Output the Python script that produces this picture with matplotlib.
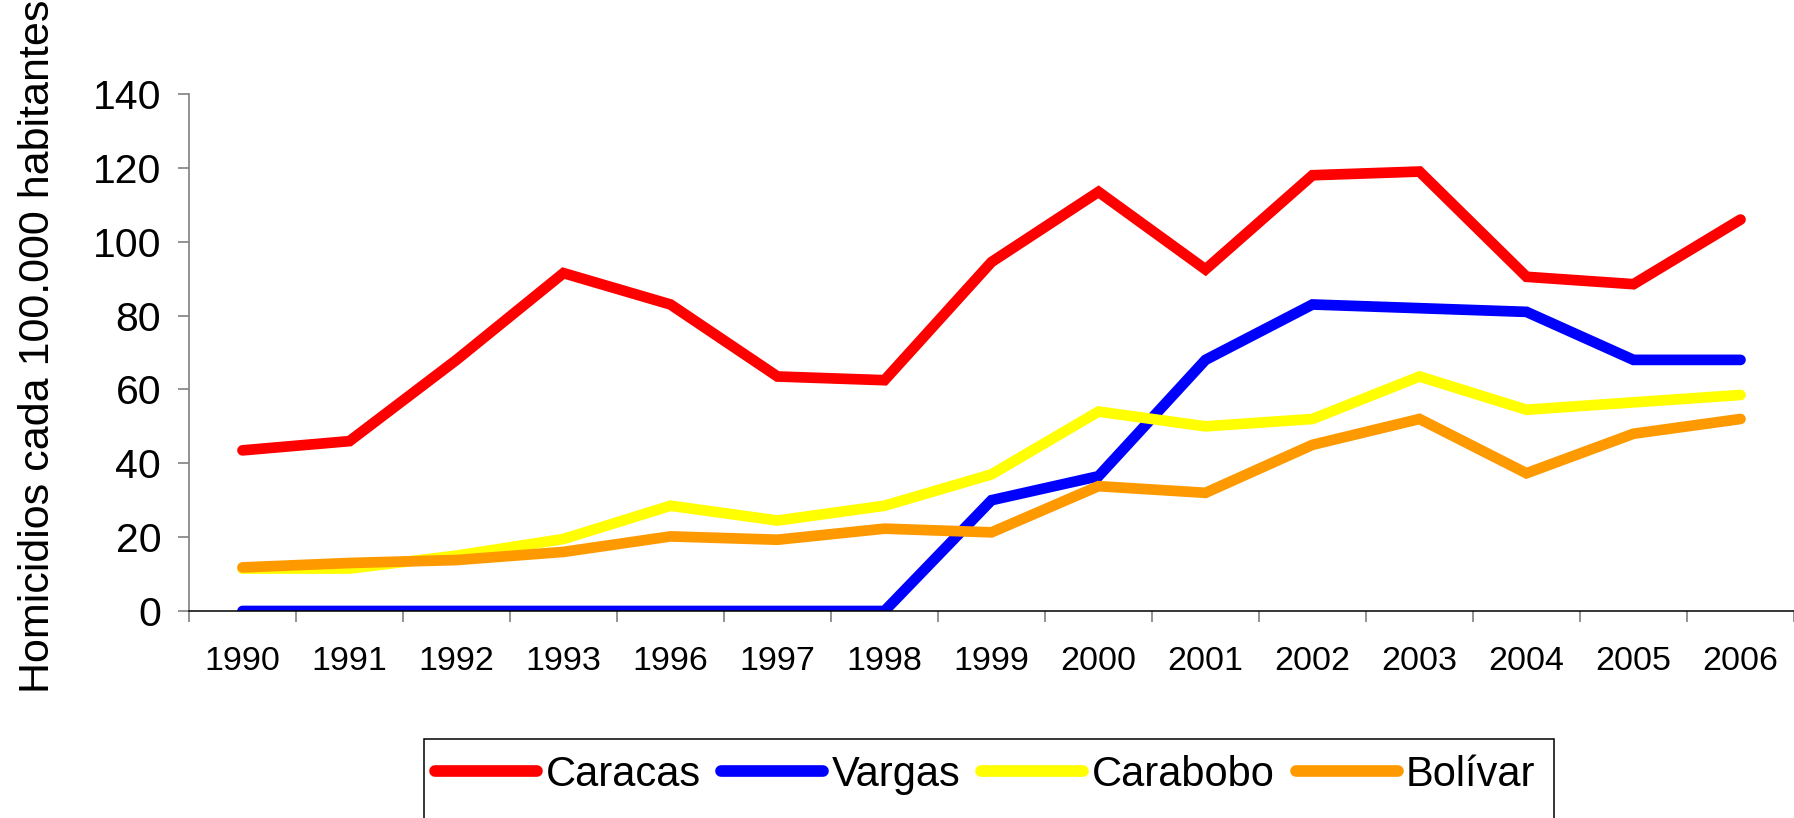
import matplotlib
matplotlib.use("Agg")
import matplotlib.pyplot as plt
from matplotlib.patches import Rectangle

plt.rcParams['font.family'] = ['Liberation Sans', 'DejaVu Sans']

years = ['1990', '1991', '1992', '1993', '1996', '1997', '1998', '1999',
         '2000', '2001', '2002', '2003', '2004', '2005', '2006']
caracas = [43.5, 46, 68, 91.5, 83, 63.5, 62.5, 94.5, 113.5, 92.5, 118, 119, 90.5, 88.5, 106]
vargas = [0, 0, 0, 0, 0, 0, 0, 30, 36.5, 68, 83, 82, 81, 68, 68]
carabobo = [11.5, 11.5, 15, 19.5, 28.5, 24.5, 28.5, 37, 54, 50, 52, 63.5, 54.5, 56.5, 58.5]
bolivar = [11.8, 13, 13.8, 16, 20.2, 19.3, 22.3, 21.3, 33.8, 32, 45, 52, 37.3, 48, 52]

series = [
    ('Caracas', caracas, '#ff0000'),
    ('Vargas', vargas, '#0000ff'),
    ('Carabobo', carabobo, '#ffff00'),
    ('Bolívar', bolivar, '#ff9900'),
]

W, H = 1794, 818
fig = plt.figure(figsize=(W / 100, H / 100), dpi=100)
ax = fig.add_axes([189 / W, 1 - 611 / H, (1794 - 189) / W, (611 - 94) / H])

x = list(range(len(years)))
for name, vals, col in series:
    ax.plot(x, vals, color=col, lw=7.7, label=name,
            solid_capstyle='round', solid_joinstyle='miter')

ax.set_xlim(-0.5, len(years) - 0.5)
ax.set_ylim(0, 140)
ax.set_yticks(range(0, 141, 20))

# category labels sit between the boundary ticks
ax.set_xticks([i - 0.5 for i in range(len(years) + 1)])
ax.set_xticklabels([])
ax.set_xticks(x, minor=True)
ax.set_xticklabels(years, minor=True, fontsize=24.5)
ax.tick_params(axis='x', which='minor', length=0, pad=25)
ax.tick_params(axis='x', which='major', length=7.7, width=1.2, color='#808080', direction='out')
ax.tick_params(axis='y', length=8, width=1.2, color='#808080', direction='out',
               labelsize=29.5, pad=12)

for s in ('top', 'right'):
    ax.spines[s].set_visible(False)
ax.spines['left'].set_color('#808080')
ax.spines['left'].set_linewidth(1.2)
ax.spines['bottom'].set_color('black')
ax.spines['bottom'].set_linewidth(1.1)

fig.text(38 / W, 1 - 346 / H, 'Homicidios cada 100.000 habitantes',
         rotation=90, ha='center', va='center', fontsize=31)

leg = fig.legend(loc='center left', bbox_to_anchor=(435 / W, 1 - 775 / H),
                 ncol=4, frameon=False, fontsize=30, handlelength=2.45,
                 handletextpad=0.2, columnspacing=0.5, borderpad=0,
                 borderaxespad=0)
for h in leg.get_lines():
    h.set_linewidth(8.4)
    h.set_solid_capstyle('round')

# legend box runs off the bottom edge
fig.patches.append(Rectangle((424 / W, 1 - 840 / H), (1554 - 424) / W, (840 - 739) / H,
                             transform=fig.transFigure, fill=False, lw=1.1,
                             edgecolor='black', clip_on=False))

fig.savefig('out.png', dpi=100)
